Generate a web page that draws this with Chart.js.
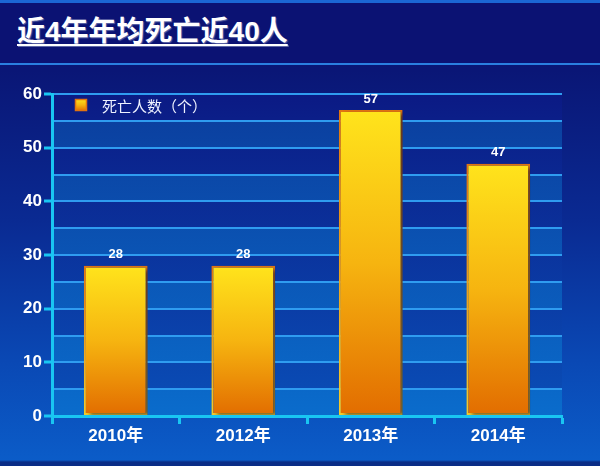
<!DOCTYPE html>
<html>
<head>
<meta charset="utf-8">
<script src="https://cdn.jsdelivr.net/npm/chart.js@4/dist/chart.umd.min.js"></script>
<style>
  html, body { margin: 0; padding: 0; }
  body {
    width: 600px; height: 466px; position: relative; overflow: hidden;
    background: linear-gradient(180deg, #0a1272 0px, #0a1676 70px, #0a2a92 220px, #0a48b4 360px, #0b5cc8 460px, #0a2c86 462px, #0a2c86 466px);
  }
  #header {
    position: absolute; left: 0; top: 0; width: 600px; height: 60px;
    background: #0b1273; border-top: 3px solid #1b66d4; border-bottom: 2px solid #2a7fe0;
  }
  #title {
    position: absolute; left: 17px; top: 18px; margin: 0;
    font: bold 28px "Liberation Sans", "Noto Sans CJK SC", sans-serif; line-height: 28px;
    color: #ffffff; text-decoration: underline; text-underline-offset: 3px; text-decoration-thickness: 2px;
    text-shadow: 1px 1px 1px rgba(150,160,200,0.6); white-space: nowrap;
  }
  canvas { position: absolute; left: 0; top: 0; }
</style>
</head>
<body>
<div id="header"></div>
<div id="title"></div>
<canvas id="c" width="600" height="466"></canvas>
<script>
const titleText = '近4年年均死亡近40人';
const categories = ['2010年', '2012年', '2013年', '2014年'];
const deaths = [28, 28, 57, 47];
const seriesLabel = '死亡人数（个）';
const yTickValues = [0, 10, 20, 30, 40, 50, 60];
const yBandStep = 5;

document.getElementById('title').textContent = titleText;

const CYAN = '#19c6f2';
const GRID = '#2f9cf0';
const FONT = '"Liberation Sans", "Noto Sans CJK SC", sans-serif';

function barFill(ctx, y0, y1) {
  const g = ctx.createLinearGradient(0, y0, 0, y1);
  g.addColorStop(0, '#ffe41c');
  g.addColorStop(0.5, '#f6b410');
  g.addColorStop(1, '#e26c00');
  return g;
}
function barStroke(ctx, y0, y1) {
  const g = ctx.createLinearGradient(0, y0, 0, y1);
  g.addColorStop(0, '#e27410');
  g.addColorStop(1, '#f6cc2a');
  return g;
}

const bandsPlugin = {
  id: 'bands',
  beforeDraw(chart) {
    const { ctx, chartArea: a, scales: { y } } = chart;
    const dark = ctx.createLinearGradient(0, a.top, 0, a.bottom);
    dark.addColorStop(0, '#0b1a84');
    dark.addColorStop(1, '#0a4fb8');
    const light = ctx.createLinearGradient(0, a.top, 0, a.bottom);
    light.addColorStop(0, '#0b3c9c');
    light.addColorStop(1, '#0a6ccc');
    ctx.save();
    ctx.fillStyle = dark;
    ctx.fillRect(a.left, a.top, a.right - a.left, a.bottom - a.top);
    ctx.fillStyle = light;
    for (let v = y.min; v < y.max; v += 2 * yBandStep) {
      const p0 = y.getPixelForValue(v), p1 = y.getPixelForValue(v + yBandStep);
      ctx.fillRect(a.left, p1, a.right - a.left, p0 - p1);
    }
    ctx.restore();
  }
};

const shadowPlugin = {
  id: 'barShadow',
  beforeDatasetsDraw(chart) {
    const ctx = chart.ctx;
    ctx.save();
    ctx.shadowColor = 'rgba(0,0,40,0.55)';
    ctx.shadowOffsetX = 4;
    ctx.shadowOffsetY = 2;
    ctx.shadowBlur = 4;
  },
  afterDatasetsDraw(chart) {
    const ctx = chart.ctx;
    ctx.restore();
    // value labels
    const meta = chart.getDatasetMeta(0);
    ctx.save();
    ctx.fillStyle = '#ffffff';
    ctx.font = 'bold 13px ' + FONT;
    ctx.textAlign = 'center';
    ctx.textBaseline = 'middle';
    meta.data.forEach((bar, i) => {
      ctx.fillText(String(chart.data.datasets[0].data[i]), bar.x, bar.y - 11);
    });
    // legend
    const a = chart.chartArea;
    const bx = a.left + 23, by = a.top + 5;
    ctx.fillStyle = barFill(ctx, by, by + 12);
    ctx.fillRect(bx, by, 12, 12);
    ctx.strokeStyle = '#e27410';
    ctx.lineWidth = 1.5;
    ctx.strokeRect(bx + 0.5, by + 0.5, 11, 11);
    ctx.fillStyle = '#eef2ff';
    ctx.font = '15px "Noto Sans CJK SC", sans-serif';
    ctx.textAlign = 'left';
    ctx.fillText(chart.data.datasets[0].label, bx + 27, by + 7);
    ctx.restore();
  }
};

new Chart(document.getElementById('c'), {
  type: 'bar',
  data: {
    labels: categories,
    datasets: [{
      label: seriesLabel,
      data: deaths,
      barPercentage: 0.5,
      categoryPercentage: 1.0,
      borderWidth: 2,
      borderSkipped: false,
      backgroundColor(c) {
        const ch = c.chart;
        if (!ch.chartArea || c.raw === undefined) return '#f6b410';
        const y = ch.scales.y;
        return barFill(ch.ctx, y.getPixelForValue(c.raw), y.getPixelForValue(0));
      },
      borderColor(c) {
        const ch = c.chart;
        if (!ch.chartArea || c.raw === undefined) return '#e27410';
        const y = ch.scales.y;
        return barStroke(ch.ctx, y.getPixelForValue(c.raw), y.getPixelForValue(0));
      }
    }]
  },
  options: {
    responsive: false,
    devicePixelRatio: 1,
    animation: false,
    layout: { padding: { top: 94, right: 38, bottom: 0, left: 0 } },
    plugins: {
      legend: { display: false },
      tooltip: { enabled: false },
      title: { display: false }
    },
    scales: {
      x: {
        offset: true,
        grid: {
          offset: true,
          drawOnChartArea: false,
          drawTicks: true,
          tickLength: 8,
          tickWidth: 3,
          tickColor: CYAN
        },
        border: { display: true, color: CYAN, width: 3 },
        ticks: { color: '#ffffff', font: { family: FONT, size: 17, weight: 'bold' }, padding: 2 },
        afterFit(s) { s.height = 50; }
      },
      y: {
        min: yTickValues[0],
        max: yTickValues[yTickValues.length - 1],
        ticks: {
          stepSize: yBandStep,
          autoSkip: false,
          color: '#ffffff',
          font: { family: FONT, size: 17, weight: 'bold' },
          padding: 2,
          callback: (v) => yTickValues.includes(v) ? String(v) : ''
        },
        grid: {
          color: (c) => c.tick && c.tick.value === 0 ? 'rgba(0,0,0,0)' : GRID,
          lineWidth: 2,
          tickLength: 8,
          tickWidth: 3,
          tickColor: (c) => c.tick && yTickValues.includes(c.tick.value) ? CYAN : 'rgba(0,0,0,0)'
        },
        border: { display: true, color: CYAN, width: 3 },
        afterFit(s) { s.width = 52; }
      }
    }
  },
  plugins: [bandsPlugin, shadowPlugin]
});
</script>
</body>
</html>
